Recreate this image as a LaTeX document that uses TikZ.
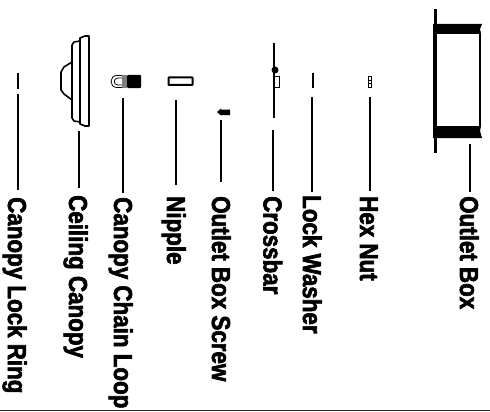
\documentclass[tikz,border=0pt]{standalone}
\usepackage{fontspec}
\newfontfamily\lab[FakeStretch=.86,FakeBold=2.4]{Liberation Sans Bold}
\begin{document}
\begin{tikzpicture}[x=1pt,y=-1pt,
  lbl/.style={rotate=-90,anchor=base west,inner sep=0pt,font=\lab\fontsize{26}{26}\selectfont},
  conn/.style={line width=1.5pt,black},
  part/.style={line width=1.6pt,black,line join=round},
  heavy/.style={line width=2.5pt,black}]
\useasboundingbox (0,0) rectangle (490,412);
% labels
\node[lbl] (lLR) at (8,197) {Canopy Lock Ring};
\node[lbl] (lCC) at (69,195) {Ceiling Canopy};
\node[lbl] (lCL) at (114,197) {Canopy Chain Loop};
\node[lbl] (lNP) at (167,196) {Nipple};
\node[lbl] (lOS) at (212,196) {Outlet Box Screw};
\node[lbl] (lCB) at (263.5,196) {Crossbar};
\node[lbl] (lLW) at (303,195) {Lock Washer};
\node[lbl] (lHN) at (360,196) {Hex Nut};
\node[lbl] (lOB) at (460,196) {Outlet Box};
% connector ends
\foreach \n/\x/\a/\b in {LR/18/94/190,CC/79/131/188,CL/123/98/193,NP/176/100/185,OS/221/120/182,CB/273/130/191,LW/312/97/192,HN/370/97/191,OB/470/144/192}{
  \coordinate (s\n) at (\x,\a);
  \coordinate (e\n) at (\x,\b);
  \draw[conn] (s\n) -- (e\n);
}
% canopy lock ring
\draw[heavy] (18,73) -- (18,89);
% ceiling canopy
\draw[part,fill=white] (80,38) -- (85,36) -- (89,36) -- (89,126) -- (85,126) -- (80,124) -- cycle;
\draw[part,fill=white] (80,41) -- (74,42) -- (72,45) -- (72,118) -- (74,121) -- (80,122) -- cycle;
\draw[part] (72,62) -- (64,67) -- (61,72) -- (61,90) -- (64,94) -- (72,100);
% chain loop
\draw[line width=.8pt,fill=white] (123,75.5) -- (117,75.5) .. controls (109,75.5) and (109,87.5) .. (117,87.5) -- (123,87.5);
\draw[line width=.8pt] (123,78) -- (118,78) .. controls (113,78) and (113,85) .. (118,85) -- (123,85);
\fill[black!50] (122,75) rectangle (127,88);
\fill[black,rounded corners=1pt] (127,75) rectangle (141,88);
% nipple
\draw[line width=2pt,fill=white,rounded corners=.6pt] (168.5,77.5) rectangle (192.5,85);
% screw
\fill[black] (217,112) -- (221,108.5) -- (221,109.5) -- (230,109.5) -- (230,115) -- (221,115) -- (221,115.5) -- cycle;
% crossbar
\draw[heavy] (274,43) -- (274,118);
\fill[black] (275,70) circle (3.5);
\draw[line width=.9pt] (274,76) rectangle (279,87);
% lock washer
\draw[heavy] (313,73) -- (313,88);
% hex nut
\draw[line width=.9pt] (368.7,76) rectangle (371.8,87);
\draw[line width=.9pt] (368.7,80) -- (371.8,80) (368.7,83) -- (371.8,83);
% outlet box
\draw[line width=3pt] (435,9) -- (435,153);
\fill[black] (433,24) -- (482,24) -- (480,29) -- (481,34) -- (433,34) -- cycle;
\fill[black] (433,126) -- (481,126) -- (480,131) -- (482,138) -- (433,138) -- cycle;
\draw[line width=2pt] (434,34) -- (434,126);
\draw[line width=2.4pt] (480,34) -- (480,126);
% baseline rule
\draw[line width=1.5pt,black!85] (0,410.5) -- (490,410.5);
\end{tikzpicture}
\end{document}
